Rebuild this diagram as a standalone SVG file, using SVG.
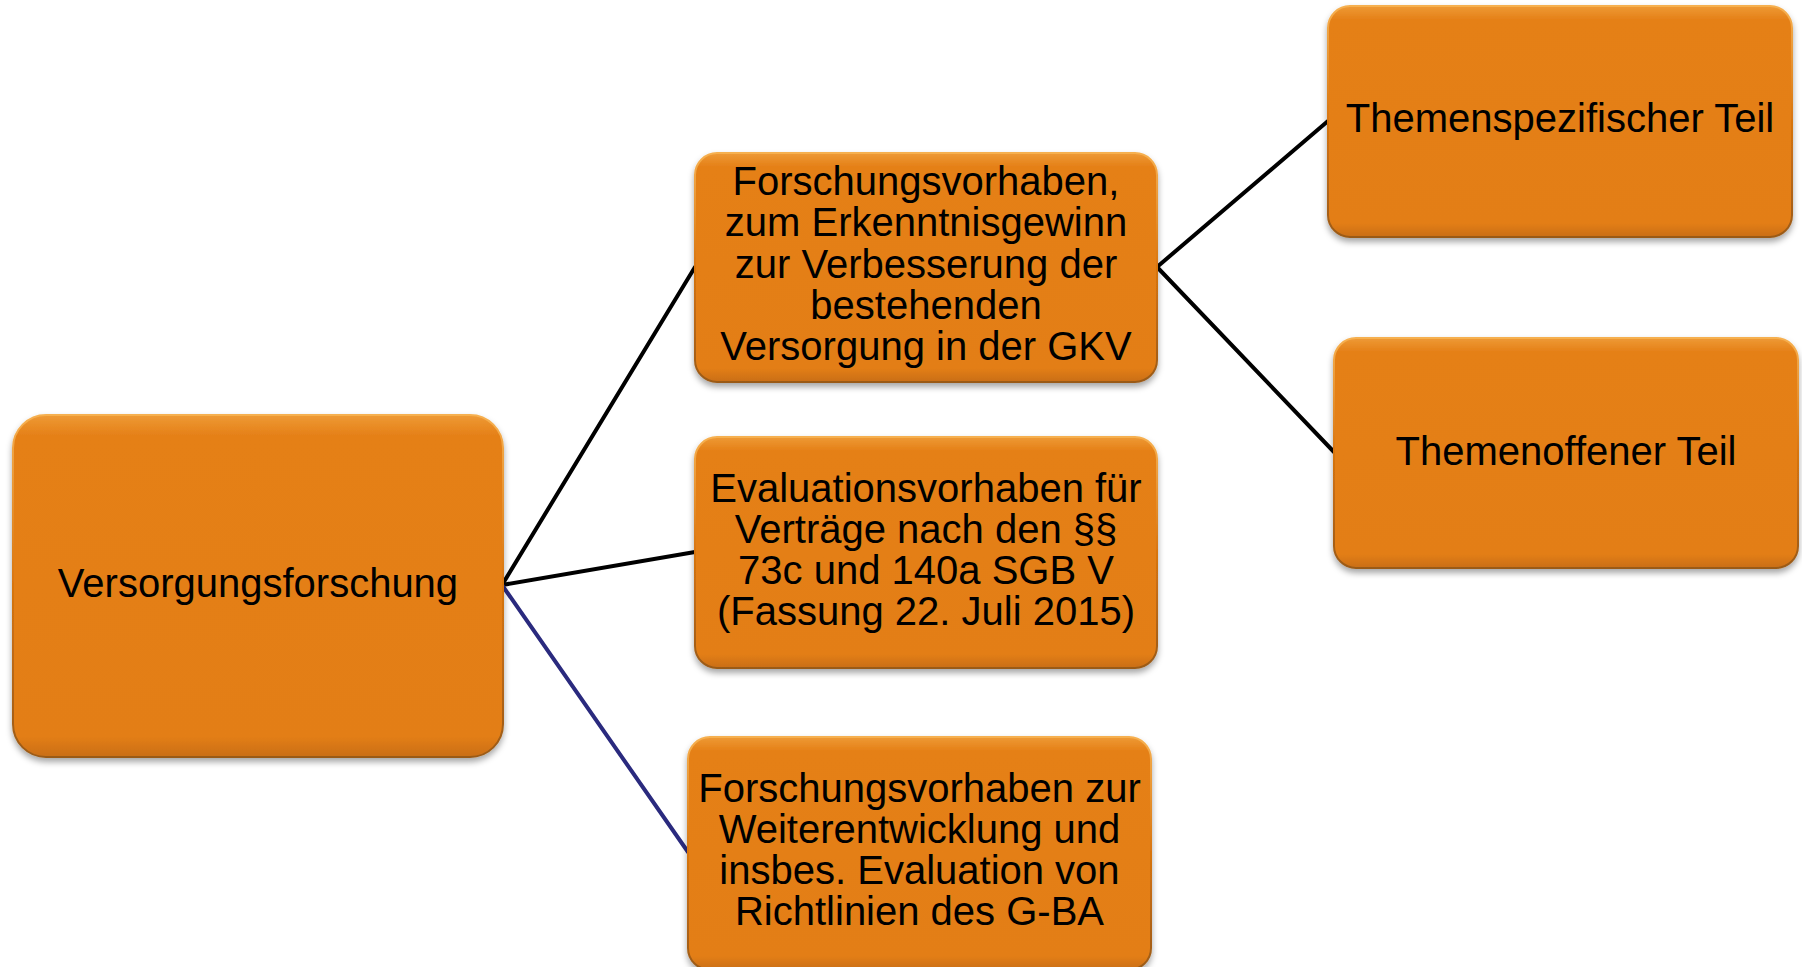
<svg xmlns="http://www.w3.org/2000/svg" width="1802" height="967" viewBox="0 0 1802 967">
  <defs>
    <linearGradient id="edge" x1="0" y1="0" x2="0" y2="1">
      <stop offset="0" stop-color="#F6B050"/>
      <stop offset="0.5" stop-color="#D87510"/>
      <stop offset="1" stop-color="#9A5A18"/>
    </linearGradient>
    <linearGradient id="fillg" x1="0" y1="0" x2="0" y2="1">
      <stop offset="0" stop-color="#EE9A35"/>
      <stop offset="0.06" stop-color="#E58018"/>
      <stop offset="0.94" stop-color="#E37E17"/>
      <stop offset="1" stop-color="#C96E14"/>
    </linearGradient>
    <filter id="shadow" x="-10%" y="-10%" width="120%" height="125%">
      <feDropShadow dx="0" dy="4" stdDeviation="3" flood-color="#000" flood-opacity="0.35"/>
    </filter>
  </defs>
  <style>
    .box { fill: url(#fillg); stroke: url(#edge); stroke-width: 2; filter: url(#shadow); }
    .lbl { font-family: "Liberation Sans", Arial, sans-serif; font-size: 40px; fill: #000; text-anchor: middle; }
    .conn { fill: none; stroke-width: 4; stroke-linecap: round; }
    .black { stroke: #000; }
    .navy { stroke: #2A2A7E; }
  </style>
  <rect width="1802" height="967" fill="#FFFFFF"/>
  <g id="connectors">
    <line class="conn black" x1="502" y1="585" x2="695" y2="267"/>
    <line class="conn black" x1="502" y1="585" x2="695" y2="552"/>
    <line class="conn navy" x1="502" y1="585" x2="688" y2="852"/>
    <line class="conn black" x1="1157" y1="267" x2="1328" y2="121"/>
    <line class="conn black" x1="1157" y1="267" x2="1334" y2="452"/>
  </g>
  <g id="node-versorgungsforschung">
    <rect class="box" x="13" y="415" width="490" height="342" rx="33" ry="33"/>
    <text class="lbl" x="258" y="597">Versorgungsforschung</text>
  </g>
  <g id="node-forschungsvorhaben-gkv">
    <rect class="box" x="695" y="153" width="462" height="229" rx="22" ry="22"/>
    <text class="lbl" x="926" y="195">Forschungsvorhaben,</text>
    <text class="lbl" x="926" y="236.3">zum Erkenntnisgewinn</text>
    <text class="lbl" x="926" y="277.6">zur Verbesserung der</text>
    <text class="lbl" x="926" y="318.9">bestehenden</text>
    <text class="lbl" x="926" y="360.2">Versorgung in der GKV</text>
  </g>
  <g id="node-evaluationsvorhaben">
    <rect class="box" x="695" y="437" width="462" height="231" rx="22" ry="22"/>
    <text class="lbl" x="926" y="502">Evaluationsvorhaben für</text>
    <text class="lbl" x="926" y="543">Verträge nach den §§</text>
    <text class="lbl" x="926" y="584">73c und 140a SGB V</text>
    <text class="lbl" x="926" y="625">(Fassung 22. Juli 2015)</text>
  </g>
  <g id="node-richtlinien">
    <rect class="box" x="688" y="737" width="463" height="233" rx="22" ry="22"/>
    <text class="lbl" x="919.5" y="802">Forschungsvorhaben zur</text>
    <text class="lbl" x="919.5" y="843">Weiterentwicklung und</text>
    <text class="lbl" x="919.5" y="884">insbes. Evaluation von</text>
    <text class="lbl" x="919.5" y="924.5">Richtlinien des G-BA</text>
  </g>
  <g id="node-themenspezifisch">
    <rect class="box" x="1328" y="6" width="464" height="231" rx="22" ry="22"/>
    <text class="lbl" x="1560" y="132">Themenspezifischer Teil</text>
  </g>
  <g id="node-themenoffen">
    <rect class="box" x="1334" y="338" width="464" height="230" rx="22" ry="22"/>
    <text class="lbl" x="1566" y="465">Themenoffener Teil</text>
  </g>
</svg>
